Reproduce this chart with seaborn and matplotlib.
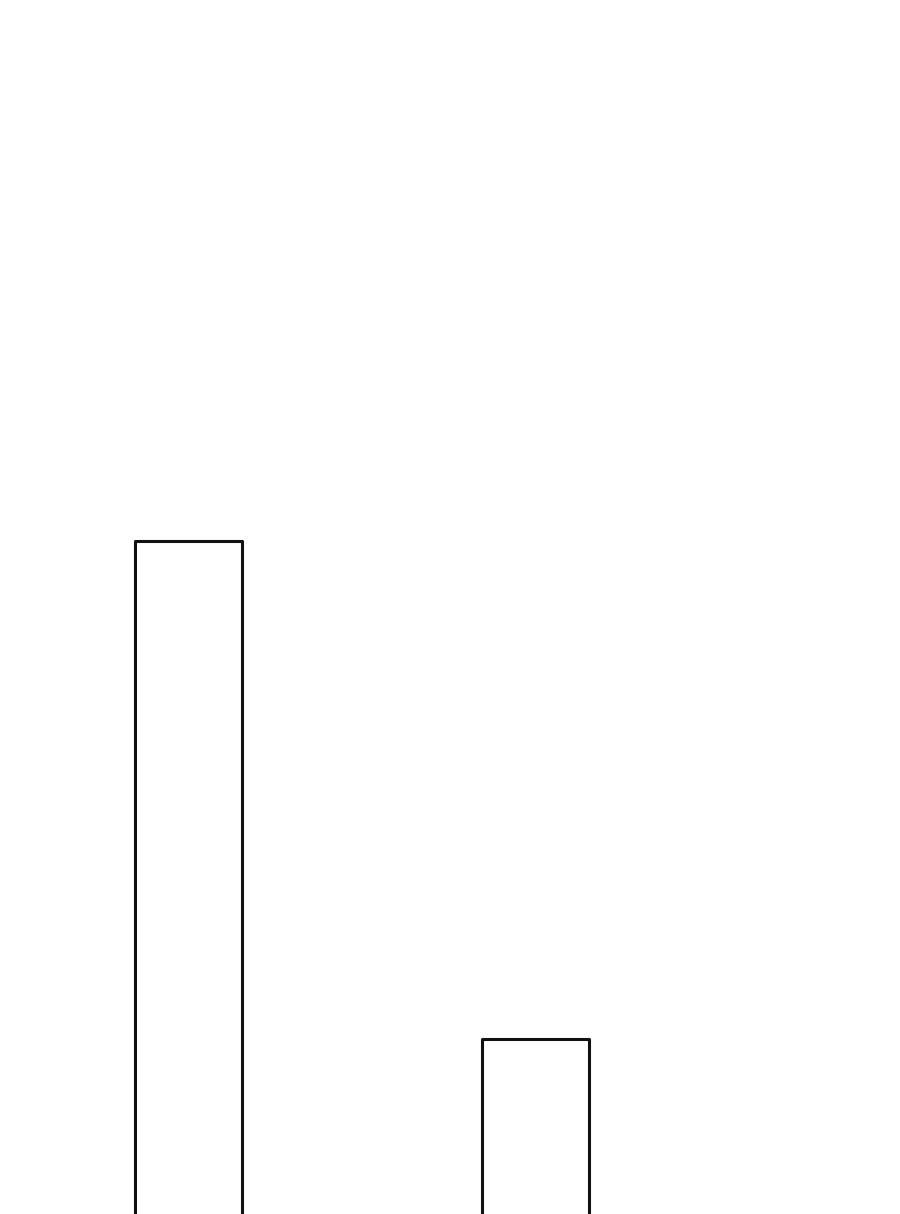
import matplotlib
matplotlib.use("Agg")
import matplotlib.pyplot as plt
import seaborn as sns
import pandas as pd

# Datos (valores estimados de la imagen)
categorias = ["A", "B"]
valores = [78, 21]

df = pd.DataFrame({"categoria": categorias, "valor": valores})

sns.set_style("white")
fig = plt.figure(figsize=(9, 12.14), dpi=100)
ax = fig.add_axes([0, 0, 1, 1])

sns.barplot(data=df, x="categoria", y="valor", ax=ax, width=0.307,
            fill=False, edgecolor="#111111", linewidth=2.2)

# Esquinas redondeadas como en la referencia
for p in ax.patches:
    p.set_joinstyle("round")

# Las barras quedan cortadas abajo (sin borde inferior)
ax.set_xlim(-0.543, 2.051)
ax.set_ylim(1, 139.9)
ax.axis("off")

fig.savefig("out.png", dpi=100, facecolor="white")
plt.close()
